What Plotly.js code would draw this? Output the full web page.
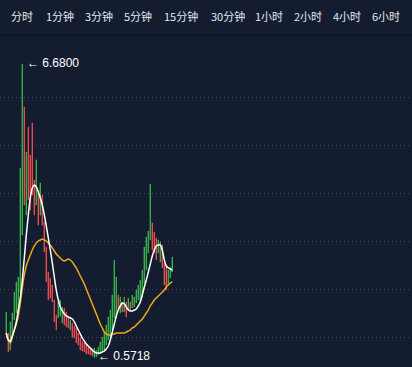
<!DOCTYPE html>
<html>
<head>
<meta charset="utf-8">
<script src="https://cdn.plot.ly/plotly-3.0.1.min.js"></script>
<style>
  html, body { margin: 0; padding: 0; background: #141d2f; }
  #chart { width: 412px; height: 367px; }
</style>
</head>
<body>
<div id="chart"></div>
<script>
// ---- Data ----
const tabs = ["分时", "1分钟", "3分钟", "5分钟", "15分钟", "30分钟", "1小时", "2小时", "4小时", "6小时", "12小时"];

const open = [1.042,1.083,0.729,0.979,1.354,1.5,1.417,1.917,3.125,5.79,
  3.54,5.375,4.79,5.458,4.27,3.75,4.06,3.54,3.96,3.40,
  2.875,2.354,2.23,2.083,1.77,1.458,1.396,1.438,1.29,1.604,
  1.52,1.438,1.146,1.29,1.229,1.188,1.083,0.979,0.917,0.875,
  0.833,0.79,0.77,0.729,0.5718,0.583,0.625,0.667,0.688,0.729,
  0.833,0.938,0.979,1.146,1.396,1.396,1.875,1.5,1.729,1.52,
  1.729,1.563,1.729,1.604,1.625,1.708,1.77,1.708,1.833,2.125,
  2.396,2.75,3.02,3.375,3.188,3.063,2.75,2.563,2.917,2.54,
  2.458,2.083,2.229,2.354];

const high = [1.521,1.083,1.313,1.5,1.938,2.146,2.25,4.52,6.68,5.79,
  4.854,5.375,4.79,5.458,4.27,4.69,4.06,4.21,3.96,3.40,
  2.875,2.354,2.23,2.083,1.77,1.458,1.73,1.77,1.625,1.604,
  1.52,1.438,1.354,1.29,1.229,1.188,1.083,0.979,0.917,0.875,
  0.833,0.79,0.77,0.729,0.77,0.729,0.79,0.896,1.0,1.104,
  1.25,1.417,1.563,1.875,2.604,2.25,1.875,1.833,1.729,1.833,
  1.729,1.813,1.729,1.875,1.833,1.979,2.083,2.188,2.396,2.875,
  3.083,3.208,4.188,3.375,3.188,3.063,3.02,2.98,2.917,2.54,
  2.458,2.396,2.458,2.667];

const low = [1.042,0.688,0.729,0.979,1.354,1.5,1.417,1.917,3.125,3.75,
  3.54,3.854,3.646,3.958,3.54,3.75,3.33,3.54,3.33,2.77,
  2.146,1.77,1.81,1.73,1.313,1.146,1.396,1.438,1.29,1.25,
  1.21,1.188,1.146,1.0,0.979,0.875,0.833,0.729,0.708,0.688,
  0.646,0.646,0.625,0.604,0.5718,0.583,0.625,0.667,0.688,0.729,
  0.833,0.938,0.979,1.146,1.396,1.396,1.563,1.5,1.52,1.52,
  1.417,1.563,1.563,1.604,1.625,1.708,1.77,1.708,1.833,2.125,
  2.396,2.75,3.02,2.813,2.75,2.604,2.75,2.563,2.438,2.083,
  1.979,2.083,2.229,2.354];

const close = [1.521,0.688,1.313,1.5,1.938,2.146,2.25,4.52,6.68,3.75,
  4.854,3.854,3.646,3.958,3.54,4.69,3.33,4.21,3.33,2.77,
  2.146,1.77,1.81,1.73,1.313,1.146,1.73,1.77,1.625,1.25,
  1.21,1.188,1.354,1.0,0.979,0.875,0.833,0.729,0.708,0.688,
  0.646,0.646,0.625,0.604,0.77,0.729,0.79,0.896,1.0,1.104,
  1.25,1.417,1.563,1.875,2.604,2.25,1.563,1.833,1.52,1.833,
  1.417,1.813,1.563,1.875,1.833,1.979,2.083,2.188,2.396,2.875,
  3.083,3.208,4.188,2.813,2.75,2.604,3.02,2.98,2.438,2.083,
  1.979,2.396,2.458,2.667];

const maWhite = [1.083,0.938,0.917,1.021,1.146,1.313,1.563,1.813,2.188,2.646,
  3.125,3.542,3.896,4.104,4.167,4.125,4.021,3.896,3.75,3.542,
  3.313,3.063,2.813,2.542,2.25,1.979,1.771,1.625,1.542,1.479,
  1.438,1.417,1.396,1.375,1.313,1.229,1.146,1.063,0.979,0.917,
  0.854,0.813,0.771,0.729,0.688,0.667,0.667,0.667,0.688,0.708,
  0.75,0.813,0.938,1.104,1.271,1.438,1.563,1.646,1.708,1.688,
  1.625,1.563,1.542,1.542,1.563,1.583,1.646,1.729,1.875,2.042,
  2.188,2.354,2.521,2.688,2.813,2.896,2.917,2.917,2.813,2.604,
  2.479,2.438,2.417,2.396];

const maOrange = [1.083,0.938,0.875,1.0,1.146,1.271,1.438,1.708,2.021,2.292,
  2.479,2.604,2.708,2.813,2.896,2.958,3.0,3.021,3.042,3.021,
  3.0,2.958,2.917,2.854,2.792,2.729,2.688,2.646,2.604,2.583,
  2.604,2.625,2.604,2.563,2.5,2.438,2.354,2.271,2.188,2.104,
  2.0,1.896,1.792,1.688,1.583,1.479,1.375,1.271,1.188,1.104,
  1.063,1.042,1.042,1.063,1.063,1.083,1.083,1.083,1.083,1.083,
  1.104,1.125,1.146,1.188,1.208,1.25,1.292,1.333,1.375,1.438,
  1.5,1.563,1.646,1.708,1.771,1.813,1.854,1.896,1.938,1.979,
  2.042,2.083,2.125,2.146];

const gridValues = [1, 2, 3, 4, 5, 6];
const maxLabel = "← 6.6800";
const minLabel = "← 0.5718";

// ---- Build chart ----
const idx = open.map((_, i) => i);
const iMax = high.indexOf(Math.max(...high));
const iMin = low.indexOf(Math.min(...low));

const GREEN = "#36b24a";
const RED = "#ef4a4f";

const traces = [
  {
    type: "candlestick",
    x: idx, open: open, high: high, low: low, close: close,
    increasing: { line: { color: GREEN, width: 1 }, fillcolor: GREEN },
    decreasing: { line: { color: RED, width: 1 }, fillcolor: RED },
    whiskerwidth: 0,
    hoverinfo: "skip",
    showlegend: false
  },
  {
    type: "scatter", mode: "lines", x: idx, y: maOrange,
    line: { color: "#f2a516", width: 1.5, shape: "spline" },
    hoverinfo: "skip", showlegend: false
  },
  {
    type: "scatter", mode: "lines", x: idx, y: maWhite,
    line: { color: "#ffffff", width: 1.5, shape: "spline" },
    hoverinfo: "skip", showlegend: false
  }
];

const tabCenters = [21.5, 60, 99, 138, 181, 227.5, 269, 307.5, 347, 386, 410];
const annotations = tabs.map((t, k) => ({
  text: t,
  xref: "paper", yref: "paper",
  x: tabCenters[k] / 412, y: 1,
  xanchor: k === tabs.length - 1 ? "left" : "center",
  yanchor: "middle", yshift: 19,
  showarrow: false,
  font: { family: "Noto Sans CJK SC, Noto Sans, sans-serif", size: 11, color: "#e4e8ee" }
}));

annotations.push({
  text: maxLabel, xref: "x", yref: "y", x: idx[iMax], y: high[iMax],
  xanchor: "left", yanchor: "middle", xshift: 3, yshift: 1, showarrow: false,
  font: { family: "Liberation Sans, Arial, DejaVu Sans, sans-serif", size: 12, color: "#ffffff" }
});
annotations.push({
  text: minLabel, xref: "x", yref: "y", x: idx[iMin], y: low[iMin],
  xanchor: "left", yanchor: "middle", xshift: 2, yshift: 2, showarrow: false,
  font: { family: "Liberation Sans, Arial, DejaVu Sans, sans-serif", size: 12, color: "#ffffff" }
});

const layout = {
  width: 412, height: 367,
  margin: { l: 0, r: 0, t: 35, b: 0, pad: 0 },
  paper_bgcolor: "#141d2f",
  plot_bgcolor: "#141d2f",
  boxgap: 0.75,
  xaxis: {
    range: [-3.15, 202.85],
    showgrid: false, zeroline: false, showticklabels: false, showline: false, ticks: "",
    rangeslider: { visible: false }, fixedrange: true
  },
  yaxis: {
    range: [0.375, 7.2917],
    tickvals: gridValues,
    showticklabels: false, ticks: "",
    showgrid: true, gridcolor: "#3c475b", gridwidth: 1, griddash: "1px,3px",
    zeroline: false, showline: false, fixedrange: true
  },
  shapes: [{
    type: "line", xref: "paper", yref: "paper", x0: 0, x1: 1, y0: 1, y1: 1,
    line: { color: "#0d1423", width: 1 }
  }],
  annotations: annotations,
  showlegend: false
};

Plotly.newPlot("chart", traces, layout, { staticPlot: true, displayModeBar: false });
</script>
</body>
</html>
